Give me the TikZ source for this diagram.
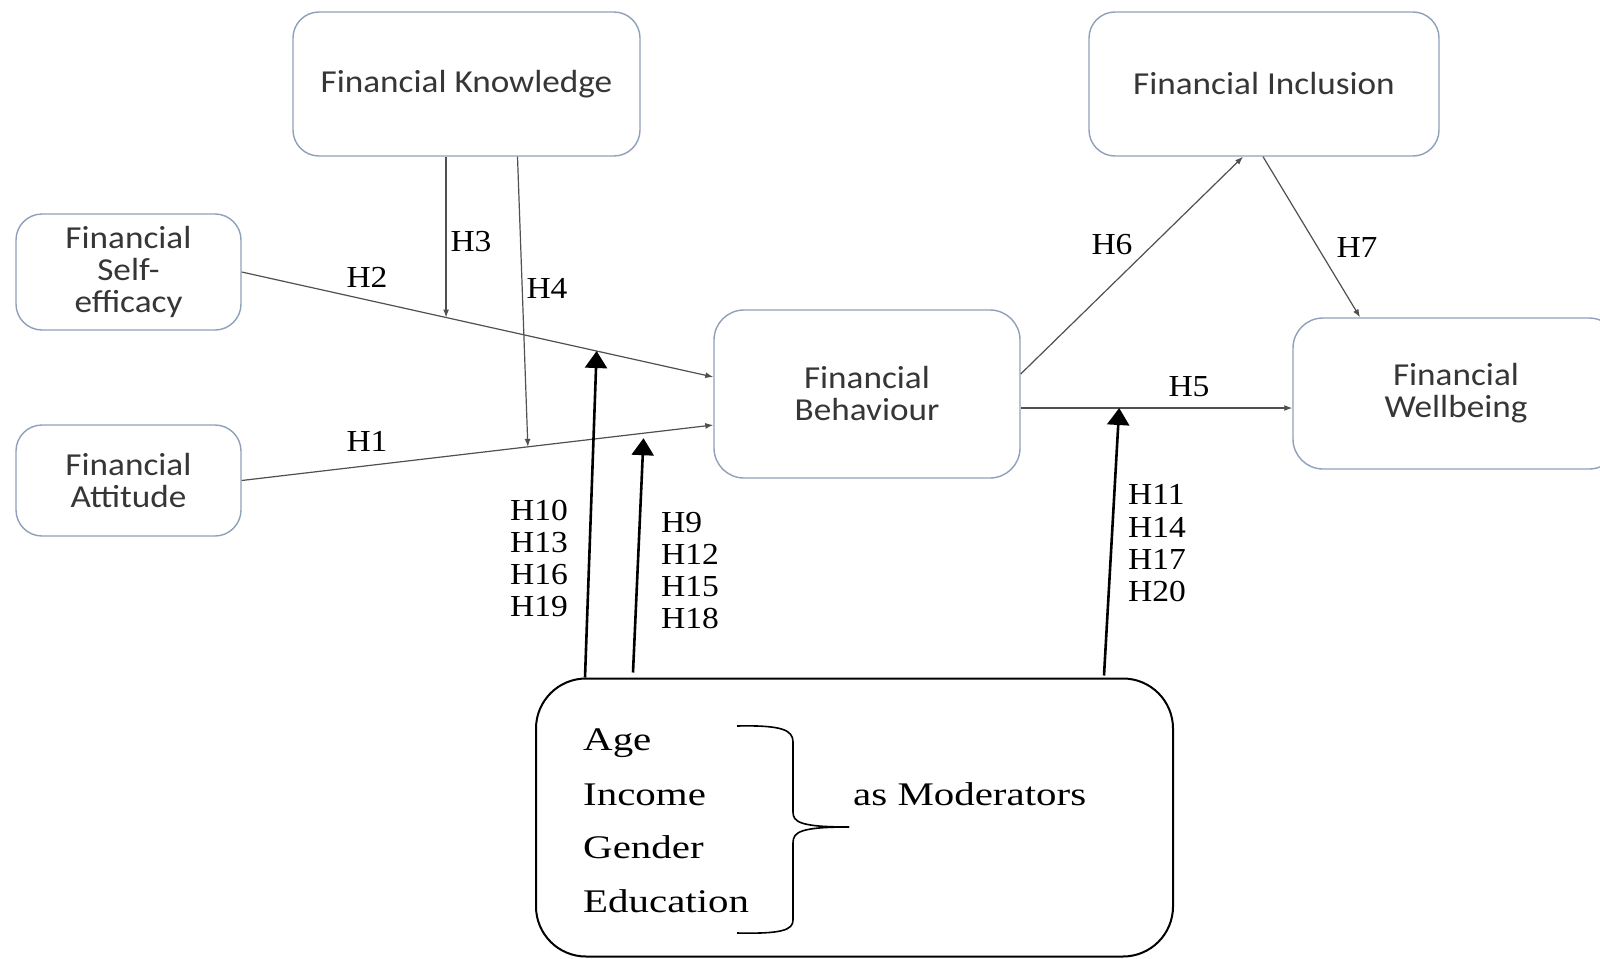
\documentclass[tikz,border=0pt]{standalone}
\usepackage{fontspec}
\setmainfont{Liberation Serif}
\newfontfamily\cali{Carlito}
\usepackage{graphicx}
\usetikzlibrary{arrows.meta,calc}
\newcommand\hs[1]{\scalebox{1.1}[1]{#1}}
\newcommand\ms[1]{\scalebox{1.24}[1]{#1}}
\definecolor{boxline}{HTML}{8FA0BA}
\definecolor{boxtext}{HTML}{363636}
\definecolor{thinline}{HTML}{505050}
\begin{document}
\begin{tikzpicture}[x=1pt,y=-1pt,
 cbox/.style={draw=boxline, line width=1.4pt, rounded corners=26pt, inner sep=0pt, align=center, text=boxtext, font=\cali\fontsize{32}{32}\selectfont},
 modbox/.style={draw=black, line width=2pt, rounded corners=50pt, inner sep=0pt},
 hlab/.style={inner sep=0pt, font=\fontsize{30.5}{32.3}\selectfont, align=left},
 conn/.style={draw=thinline, line width=1.2pt, -{Latex[length=8pt,width=6pt]}},
 modarrow/.style={draw=black, line width=2.6pt, -{Triangle[length=17pt,width=22pt]}},
 modt/.style={inner sep=0pt, anchor=base west, font=\fontsize{33}{33}\selectfont}
]
\useasboundingbox (0,0) rectangle (1600,958);
\fill[white] (0,0) rectangle (1600,958);

% boxes
\node[cbox, minimum width=347pt, minimum height=144pt] (fk) at (466.5,84) {\hs{Financial Knowledge}};
\node[cbox, minimum width=350pt, minimum height=144pt] (fi) at (1264,84) {\hs{Financial Inclusion}};
\node[cbox, minimum width=225pt, minimum height=116pt] (se) at (128.5,272) {\hs{Financial}\\\hs{Self-}\\\hs{efficacy}};
\node[cbox, minimum width=225pt, minimum height=111pt] (fa) at (128.5,480.5) {\hs{Financial}\\\hs{Attitude}};
\node[cbox, minimum width=306pt, minimum height=168pt, rounded corners=30pt] (fb) at (867,394) {\hs{Financial}\\\hs{Behaviour}};
\node[cbox, minimum width=326pt, minimum height=151pt, rounded corners=30pt] (fw) at (1456,393.5) {\hs{Financial}\\\hs{Wellbeing}};
\node[modbox, minimum width=637pt, minimum height=278pt] (mod) at (854.5,817.5) {};

% moderator texts
\node[modt] (age) at (583,750) {\ms{Age}};
\node[modt] (inc) at (583,805) {\ms{Income}};
\node[modt] (gen) at (583,858) {\ms{Gender}};
\node[modt] (edu) at (583,912) {\ms{Education}};
\node[modt] (asm) at (853,805) {\ms{as Moderators}};
\draw[line width=1.6pt] (737,726) .. controls (782,725) and (793,730) .. (793,742) -- (793,812) .. controls (793,822) and (800,827) .. (849,827);
\draw[line width=1.6pt] (849,827) .. controls (800,827) and (793,832) .. (793,843) -- (793,920) .. controls (793,930) and (782,934) .. (737,933);

% coordinates
\coordinate (h2e) at ([yshift=17pt]fb.west);
\coordinate (h1e) at ([yshift=-31pt]fb.west);
\coordinate (h5s) at ([yshift=-14pt]fb.east);
\coordinate (h5e) at (fw.west |- h5s);
\coordinate (p3) at ($(se.east)!0.4334!(h2e)$);
\coordinate (p4) at ($(fa.east)!0.6068!(h1e)$);
\coordinate (t1) at ($(se.east)!0.7526!(h2e)$);
\coordinate (t2a) at ($(fa.east)!0.852!(h1e)$);
\coordinate (t2) at ([yshift=-5pt]t2a);
\coordinate (t3) at ($(h5s)!0.3626!(h5e)$);

% connectors
\draw[conn] (se.east) -- (h2e);
\draw[conn] (fa.east) -- (h1e);
\draw[conn] (fk.south -| p3) -- (p3);
\draw[conn] ([xshift=51pt]fk.south) -- (p4);
\draw[conn] (h5s) -- (h5e);
\draw[conn] ([yshift=20pt]fb.east) -- ([xshift=-21pt]fi.south);
\draw[conn] ([xshift=-1pt]fi.south) -- ([xshift=-96pt]fw.north);
\draw[modarrow] ([xshift=-269.5pt]mod.north) -- (t1);
\draw[modarrow] ([xshift=-221.5pt,yshift=5pt]mod.north) -- (t2);
\draw[modarrow] ([xshift=249.5pt,yshift=2pt]mod.north) -- (t3);

% labels
\node[hlab] (l2) at (367,277) {\hs{H2}};
\node[hlab] (l1) at (367,441) {\hs{H1}};
\node[hlab] (l3) at (471,242) {\hs{H3}};
\node[hlab] (l4) at (547,288) {\hs{H4}};
\node[hlab] (l5) at (1189,387) {\hs{H5}};
\node[hlab] (l6) at (1112,245) {\hs{H6}};
\node[hlab] (l7) at (1357,248) {\hs{H7}};
\node[hlab, anchor=west] (g1) at (510,558.5) {\hs{H10}\\\hs{H13}\\\hs{H16}\\\hs{H19}};
\node[hlab, anchor=west] (g2) at (661,570.5) {\hs{H9}\\\hs{H12}\\\hs{H15}\\\hs{H18}};
\node[hlab, anchor=west] (g3) at (1128,543.5) {\hs{H11}\\\hs{H14}\\\hs{H17}\\\hs{H20}};
\end{tikzpicture}
\end{document}
